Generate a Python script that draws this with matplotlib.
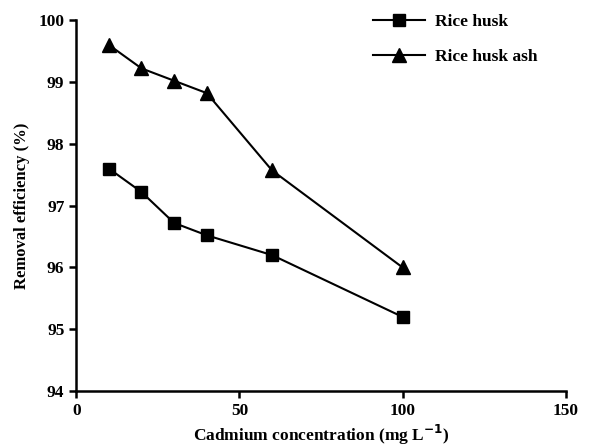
import numpy as np
import matplotlib.pyplot as plt

conc = [10, 20, 30, 40, 60, 100]
rice_husk = [97.6, 97.22, 96.72, 96.52, 96.2, 95.2]
rice_husk_ash = [99.6, 99.22, 99.02, 98.82, 97.57, 96.0]

plt.rcParams['font.family'] = ['Liberation Serif', 'DejaVu Serif']
plt.rcParams['font.weight'] = 'bold'

fig = plt.figure(figsize=(6, 4.48), dpi=100)
ax = fig.add_axes([0.127, 0.127, 0.816, 0.828])

ax.plot(conc, rice_husk, color='black', lw=1.5, marker='s', ms=9, label='Rice husk')
ax.plot(conc, rice_husk_ash, color='black', lw=1.5, marker='^', ms=10, label='Rice husk ash')

ax.set_xlim(0, 150)
ax.set_ylim(94, 100)
ax.set_xticks([0, 50, 100, 150])
ax.set_yticks([94, 95, 96, 97, 98, 99, 100])
for s in ['top', 'right']:
    ax.spines[s].set_visible(False)
for s in ['left', 'bottom']:
    ax.spines[s].set_linewidth(1.8)
ax.tick_params(direction='out', length=5, width=1.8, labelsize=12.5)
ax.set_xlabel('Cadmium concentration (mg L$^{-1}$)', fontsize=12.5, fontweight='bold', labelpad=3)
ax.set_ylabel('Removal efficiency (%)', fontsize=12, fontweight='bold', labelpad=6)
ax.legend(loc='upper left', bbox_to_anchor=(0.588, 1.04), frameon=False, fontsize=12.5,
          handlelength=3.0, labelspacing=1.1, borderpad=0, handletextpad=0.6)

fig.savefig('out.png', dpi=100)
